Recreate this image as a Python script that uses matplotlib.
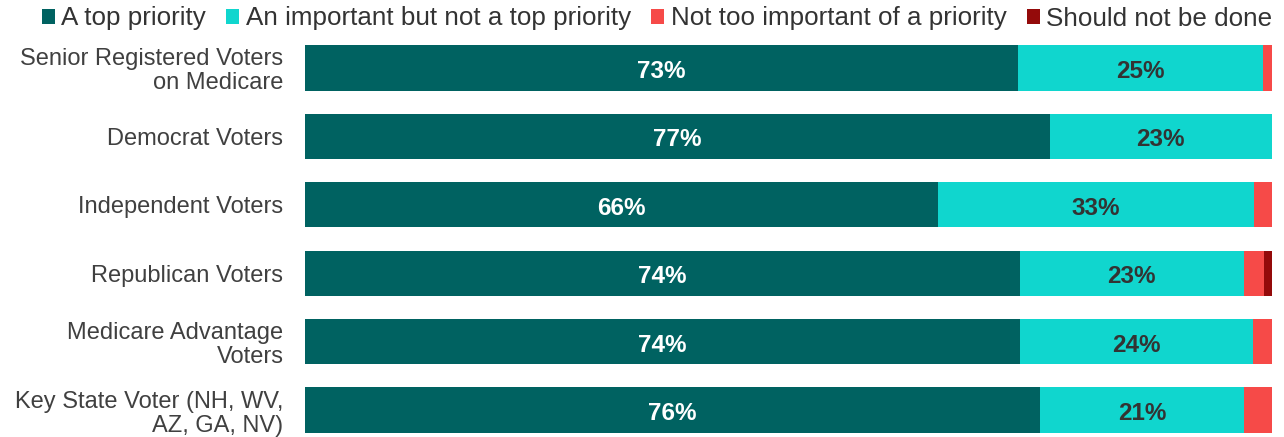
import matplotlib
matplotlib.use("Agg")
import matplotlib.pyplot as plt
import numpy as np

plt.rcParams['font.family'] = ['Liberation Sans', 'DejaVu Sans']

categories = ["Senior Registered Voters\non Medicare", "Democrat Voters", "Independent Voters",
              "Republican Voters", "Medicare Advantage\nVoters", "Key State Voter (NH, WV,\nAZ, GA, NV)"]
series_names = ["A top priority", "An important but not a top priority",
                "Not too important of a priority", "Should not be done"]
top_priority = [73.7, 77.0, 65.5, 73.9, 73.9, 76.0]
important = [25.4, 23.0, 32.6, 23.2, 24.1, 21.1]
not_too = [0.9, 0.0, 1.9, 2.1, 2.0, 2.9]
should_not = [0.0, 0.0, 0.0, 0.8, 0.0, 0.0]
top_labels = ["73%", "77%", "66%", "74%", "74%", "76%"]
imp_labels = ["25%", "23%", "33%", "23%", "24%", "21%"]

colors = ["#006261", "#10D6CE", "#F64A48", "#940A0A"]

W, H = 1284, 437
fig = plt.figure(figsize=(W/100, H/100), dpi=100)
ax = fig.add_axes([305/W, 1-434/H, (1272-305)/W, (434-44)/H])

y = np.arange(len(categories))
left = np.zeros(len(categories))
bars = []
for vals, c, name in zip([top_priority, important, not_too, should_not], colors, series_names):
    b = ax.barh(y, vals, left=left, height=0.66, color=c, label=name, linewidth=0)
    bars.append(b)
    left = left + np.array(vals)

for i in range(len(categories)):
    ax.text(top_priority[i]/2, y[i] + 0.05, top_labels[i], ha='center', va='center',
            color='white', fontsize=17.5, fontweight='bold')
    ax.text(top_priority[i] + important[i]/2, y[i] + 0.05, imp_labels[i], ha='center', va='center',
            color='#333333', fontsize=17.5, fontweight='bold')

ax.set_xlim(0, left.max())
ax.set_ylim(5.35, -0.35)
ax.set_yticks(y)
ax.set_yticklabels(categories, fontsize=17, color='#404040', linespacing=1.12)
ax.tick_params(axis='y', length=0, pad=15.5)
ax.set_xticks([])
for s in ax.spines.values():
    s.set_visible(False)

leg = fig.legend(handles=bars, labels=series_names, loc='center', bbox_to_anchor=(657/W, 1-18.5/H),
                 ncol=4, frameon=False, fontsize=18.7, handlelength=0.5, handleheight=0.5,
                 handletextpad=0.25, columnspacing=0.78, labelcolor='#333333',
                 borderpad=0, borderaxespad=0)

fig.savefig("out.png", dpi=100)
